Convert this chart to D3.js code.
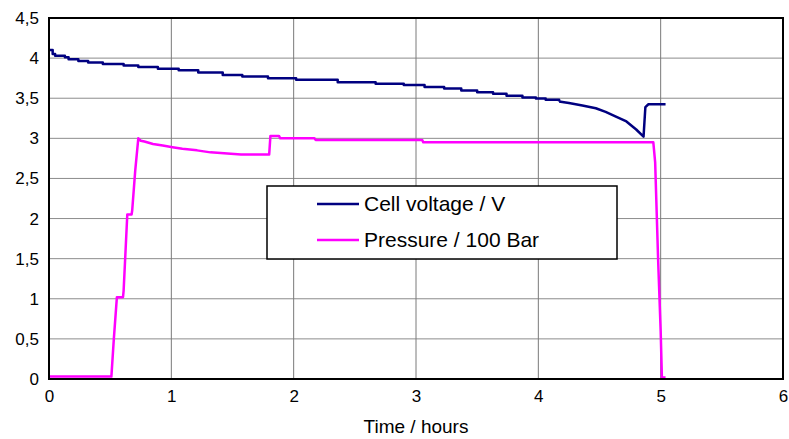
<!DOCTYPE html>
<html>
<head>
<meta charset="utf-8">
<script src="https://cdn.jsdelivr.net/npm/d3@7"></script>
<style>
  body { margin: 0; background: #fff; }
  text { font-family: "Liberation Sans", Arial, sans-serif; fill: #000; }
</style>
</head>
<body>
<div id="chart"></div>
<script>
// Cell voltage (step trace) and pressure / 100 bar over time

const voltageTime = [0, 0.03, 0.05, 0.13, 0.16, 0.24, 0.32, 0.44, 0.61, 0.73, 0.89, 1.06, 1.22, 1.42, 1.58, 1.79,
  2.02, 2.36, 2.67, 2.90, 3.07, 3.23, 3.37, 3.50, 3.63, 3.74, 3.87, 3.98, 4.06, 4.17, 4.25, 4.36, 4.47,
  4.55, 4.63, 4.72, 4.80, 4.86, 4.875, 4.90, 5.04];
const voltageValue = [4.10, 4.05, 4.03, 4.01, 3.985, 3.965, 3.946, 3.926, 3.907, 3.888, 3.868, 3.85, 3.82, 3.79, 3.77, 3.75,
  3.73, 3.70, 3.68, 3.665, 3.64, 3.62, 3.595, 3.575, 3.555, 3.53, 3.51, 3.495, 3.48, 3.46, 3.44, 3.41, 3.375,
  3.33, 3.275, 3.21, 3.11, 3.02, 3.39, 3.425, 3.425];
// the trace is stepped up to here, after that it bends smoothly down to the dip
const voltageStepEnd = 4.17;

const pressureTime = [0, 0.51, 0.53, 0.555, 0.605, 0.61, 0.64, 0.675, 0.68, 0.705, 0.73, 0.75, 0.78, 0.85, 0.93,
  1.01, 1.09, 1.21, 1.32, 1.57, 1.80, 1.81, 1.88, 1.89, 2.17, 2.18, 3.05, 3.06, 4.94, 4.955, 4.98, 5.0, 5.01, 5.04];
const pressureValue = [0.03, 0.03, 0.5, 1.02, 1.02, 1.1, 2.05, 2.05, 2.1, 2.6, 3.0, 2.97, 2.96, 2.93, 2.91,
  2.89, 2.87, 2.85, 2.825, 2.80, 2.80, 3.03, 3.03, 3.0, 3.0, 2.98, 2.98, 2.95, 2.95, 2.7, 1.45, 0.6, 0.02, 0.02];

const xTicks = [0, 1, 2, 3, 4, 5, 6];
const yTicks = [0, 0.5, 1, 1.5, 2, 2.5, 3, 3.5, 4, 4.5];
const seriesNames = ["Cell voltage / V", "Pressure / 100 Bar"];
const seriesColors = ["#000080", "#ff00ff"];

const W = 789, H = 439;
const margin = { top: 18, right: 6, bottom: 60, left: 49 };
const width = W - margin.left - margin.right;
const height = H - margin.top - margin.bottom;

const x = d3.scaleLinear().domain([0, 6]).range([0, width]);
const y = d3.scaleLinear().domain([0, 4.5]).range([height, 0]);

const svg = d3.select("#chart").append("svg")
  .attr("width", W)
  .attr("height", H);

svg.append("rect").attr("width", W).attr("height", H).attr("fill", "#fff");

const g = svg.append("g").attr("transform", `translate(${margin.left},${margin.top})`);

// Grid
g.append("g")
  .selectAll("line")
  .data(yTicks)
  .join("line")
  .attr("x1", 0).attr("x2", width)
  .attr("y1", d => y(d)).attr("y2", d => y(d))
  .attr("stroke", "#8c8c8c").attr("stroke-width", 1);

g.append("g")
  .selectAll("line")
  .data(xTicks)
  .join("line")
  .attr("x1", d => x(d)).attr("x2", d => x(d))
  .attr("y1", 0).attr("y2", height)
  .attr("stroke", "#7a7a7a").attr("stroke-width", 1);

// Axes (labels only, frame drawn separately)
const xAxis = g.append("g")
  .attr("transform", `translate(0,${height})`)
  .call(d3.axisBottom(x).tickValues(xTicks).tickSize(0).tickPadding(11).tickFormat(d3.format("d")));
xAxis.select(".domain").remove();
xAxis.selectAll("text").style("font-size", "17px");

const yAxis = g.append("g")
  .call(d3.axisLeft(y).tickValues(yTicks).tickSize(0).tickPadding(10)
    .tickFormat(d => String(d).replace(".", ",")));
yAxis.select(".domain").remove();
yAxis.selectAll("text").style("font-size", "17px");

// Series
const voltage = voltageTime.map((t, i) => [t, voltageValue[i]]);
const pressure = pressureTime.map((t, i) => [t, pressureValue[i]]);
const stepped = voltage.filter(d => d[0] <= voltageStepEnd);
const tail = voltage.filter(d => d[0] >= voltageStepEnd);

const line = d3.line().x(d => x(d[0])).y(d => y(d[1]));
const stepLine = d3.line().x(d => x(d[0])).y(d => y(d[1])).curve(d3.curveStepAfter);

g.append("path")
  .datum(pressure)
  .attr("fill", "none")
  .attr("stroke", seriesColors[1])
  .attr("stroke-width", 2.5)
  .attr("stroke-linejoin", "round")
  .attr("d", line);

[[stepped, stepLine], [tail, line]].forEach(([pts, gen]) => {
  g.append("path")
    .datum(pts)
    .attr("fill", "none")
    .attr("stroke", seriesColors[0])
    .attr("stroke-width", 2.5)
    .attr("stroke-linejoin", "round")
    .attr("d", gen);
});

// Frame
g.append("rect")
  .attr("width", width).attr("height", height)
  .attr("fill", "none").attr("stroke", "#000").attr("stroke-width", 2);

// Axis title
svg.append("text")
  .attr("x", margin.left + x(3))
  .attr("y", 433)
  .attr("text-anchor", "middle")
  .style("font-size", "19px")
  .text("Time / hours");

// Legend
const legend = svg.append("g").attr("transform", "translate(267,186)");
legend.append("rect")
  .attr("width", 350).attr("height", 73)
  .attr("fill", "#fff").attr("stroke", "#000").attr("stroke-width", 1.5);

seriesNames.forEach((name, i) => {
  const row = legend.append("g").attr("transform", `translate(0,${18 + i * 36})`);
  row.append("line")
    .attr("x1", 50).attr("x2", 92)
    .attr("y1", 0).attr("y2", 0)
    .attr("stroke", seriesColors[i]).attr("stroke-width", 2.5);
  row.append("text")
    .attr("x", 97).attr("y", 7)
    .style("font-size", "21px")
    .text(name);
});
</script>
</body>
</html>
